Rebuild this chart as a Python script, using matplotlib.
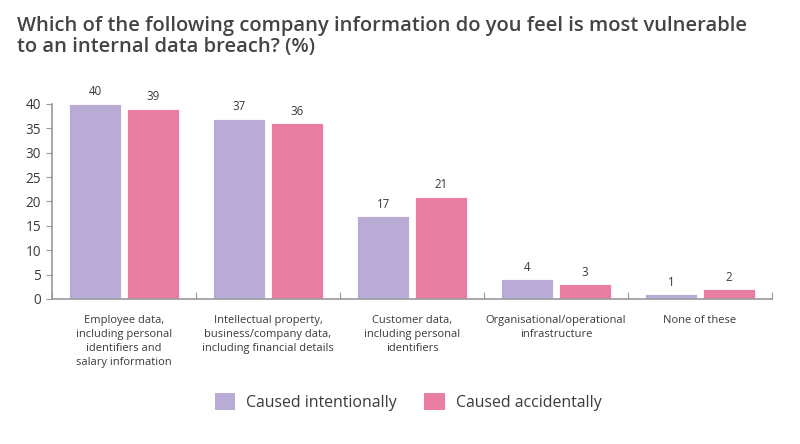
import matplotlib
matplotlib.use("Agg")
import matplotlib.pyplot as plt
import numpy as np
from matplotlib.patches import Patch

categories = [
    "Employee data,\nincluding personal\nidentifiers and\nsalary information",
    "Intellectual property,\nbusiness/company data,\nincluding financial details",
    "Customer data,\nincluding personal\nidentifiers",
    "Organisational/operational\ninfrastructure",
    "None of these",
]
intentional = [40, 37, 17, 4, 1]
accidental = [39, 36, 21, 3, 2]
series_names = ["Caused intentionally", "Caused accidentally"]
colors = ["#B8ACD6", "#E87EA1"]
y_ticks = [0, 5, 10, 15, 20, 25, 30, 35, 40]

plt.rcParams['font.family'] = ['Open Sans', 'DejaVu Sans']
text_color = "#3a3a3a"

fig = plt.figure(figsize=(8, 4.44), dpi=100)
ax = fig.add_axes([0.065, 0.3266, 0.9, 0.4392])

x = np.arange(len(categories))
w = 0.36
off = 0.2
b1 = ax.bar(x - off, intentional, w, color=colors[0], edgecolor="white", linewidth=0.6)
b2 = ax.bar(x + off, accidental, w, color=colors[1], edgecolor="white", linewidth=0.6)
for bars, vals in ((b1, intentional), (b2, accidental)):
    for rect, v in zip(bars, vals):
        ax.annotate(str(v), (rect.get_x() + rect.get_width() / 2, v),
                    xytext=(0, 4), textcoords="offset points", ha="center", va="bottom",
                    fontsize=8.3, color=text_color, annotation_clip=False)

ax.set_xlim(-0.5, len(categories) - 0.5)
ax.set_ylim(0, 40)
ax.set_yticks(y_ticks)
ax.tick_params(axis="y", length=4, color="#999999", labelsize=9.8, labelcolor=text_color, pad=4)
ax.set_xticks(np.arange(len(categories) + 1) - 0.5)
ax.set_xticklabels([])
ax.tick_params(axis="x", direction="in", length=5, color="#999999")
for i, lab in enumerate(categories):
    ax.text(i, -3.3, lab, ha="center", va="top", fontsize=8, color=text_color,
            linespacing=1.38)

for s in ["top", "right"]:
    ax.spines[s].set_visible(False)
for s in ["left", "bottom"]:
    ax.spines[s].set_color("#999999")
    ax.spines[s].set_linewidth(1.2)

fig.text(0.021, 0.964, "Which of the following company information do you feel is most vulnerable\nto an internal data breach? (%)",
         ha="left", va="top", fontsize=14.5, fontweight="semibold", color="#444444", linespacing=1.1)

handles = [Patch(facecolor=colors[0]), Patch(facecolor=colors[1])]
leg = fig.legend(handles, series_names, loc="center", bbox_to_anchor=(0.51, 1 - 402 / 444),
           bbox_transform=fig.transFigure, ncol=2, frameon=False, fontsize=11.4,
           handlelength=1.3, handleheight=1.3, columnspacing=1.7, handletextpad=0.7,
           labelcolor=text_color)

fig.savefig("out.png", dpi=100)
